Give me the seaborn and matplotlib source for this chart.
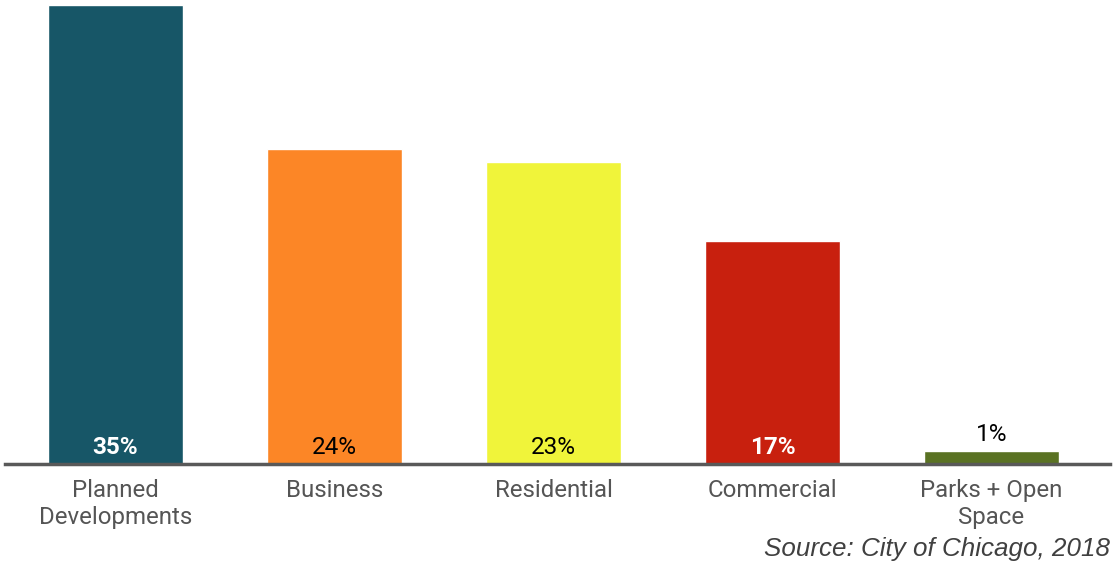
import pandas as pd
import seaborn as sns
import matplotlib.pyplot as plt

# Chart data
categories = ["Planned\nDevelopments", "Business", "Residential", "Commercial", "Parks + Open\nSpace"]
shares = [35, 24, 23, 17, 1]
bar_colors = ["#175667", "#FC8626", "#F0F43A", "#C8200E", "#5A7223"]
label_colors = ["white", "black", "black", "white", "black"]
label_weights = ["bold", "normal", "normal", "bold", "normal"]
source_text = "Source: City of Chicago, 2018"

df = pd.DataFrame({"Category": categories, "Share": shares})

sns.set_style("white")
plt.rcParams['font.family'] = ['Roboto', 'DejaVu Sans']

fig = plt.figure(figsize=(11.14, 5.67), dpi=100)
ax = fig.add_axes([5 / 1114, 103 / 567, 1105 / 1114, 464 / 567])

sns.barplot(data=df, x="Category", y="Share", hue="Category", palette=bar_colors,
            width=0.616, saturation=1, legend=False, ax=ax)

ax.set_xlim(-110.5 / 219, 4 + 118.5 / 219)
ax.set_ylim(0, 35 * 464 / 459)

# Percent labels: inside the bar near the base, or above it for tiny bars
for i, v in enumerate(shares):
    if v < 3:
        ax.annotate(f"{v}%", xy=(i, v), xytext=(0, 5), textcoords="offset pixels",
                    ha="center", va="bottom", fontsize=17.5, color=label_colors[i],
                    fontweight=label_weights[i])
    else:
        ax.annotate(f"{v}%", xy=(i, 0), xytext=(0, 16), textcoords="offset pixels",
                    ha="center", va="center", fontsize=17.5, color=label_colors[i],
                    fontweight=label_weights[i])

sns.despine(ax=ax, left=True, top=True, right=True)
ax.spines["bottom"].set_color("#595959")
ax.spines["bottom"].set_linewidth(2.5)
ax.set_yticks([])
ax.set_xlabel("")
ax.set_ylabel("")
ax.tick_params(axis="x", length=0, pad=11, labelsize=17.3, labelcolor="#555555")

fig.text(1110 / 1114, 1 - 549 / 567, source_text, ha="right", va="center",
         fontsize=18.7, style="italic", color="#404040", family=["Liberation Sans", "DejaVu Sans"])

fig.savefig("out.png", dpi=100)
